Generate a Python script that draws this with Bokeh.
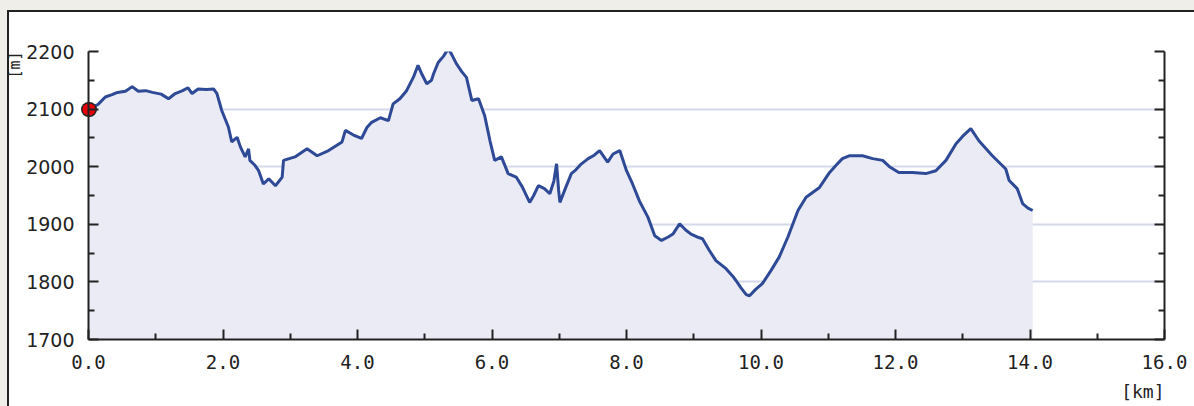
import math
from bokeh.plotting import figure
from bokeh.models import (LinearAxis, FixedTicker, PrintfTickFormatter, Range1d,
                          Title, GlobalInlineStyleSheet)
from bokeh.embed import file_html
from bokeh.resources import INLINE

# ---- data (distance km, elevation m) ----
distance_km = [
    0.00, 0.08, 0.15, 0.25, 0.35, 0.43, 0.55, 0.65, 0.74, 0.85, 0.95, 1.08, 1.19, 1.29, 1.40,
    1.48, 1.54, 1.63, 1.75, 1.86, 1.91, 1.98, 2.08, 2.13, 2.21, 2.26, 2.33, 2.38, 2.40, 2.47,
    2.53, 2.60, 2.68, 2.78, 2.88, 2.90, 3.07, 3.25, 3.40, 3.57, 3.77, 3.82, 3.94, 4.06, 4.14,
    4.21, 4.34, 4.46, 4.53, 4.63, 4.73, 4.83, 4.90, 4.96, 5.03, 5.10, 5.13, 5.20, 5.28, 5.35,
    5.40, 5.47, 5.55, 5.62, 5.70, 5.80, 5.89, 5.97, 6.04, 6.14, 6.24, 6.36, 6.45, 6.56, 6.62,
    6.69, 6.78, 6.86, 6.92, 6.96, 6.99, 7.01, 7.10, 7.18, 7.25, 7.33, 7.43, 7.52, 7.60, 7.66,
    7.72, 7.80, 7.90, 8.00, 8.09, 8.19, 8.32, 8.42, 8.52, 8.62, 8.69, 8.79, 8.88, 8.96, 9.05,
    9.13, 9.23, 9.33, 9.48, 9.58, 9.63, 9.70, 9.78, 9.83, 9.92, 10.02, 10.15, 10.27, 10.40,
    10.55, 10.67, 10.87, 11.02, 11.12, 11.21, 11.31, 11.51, 11.66, 11.81, 11.91, 12.05, 12.25,
    12.45, 12.60, 12.75, 12.90, 13.00, 13.12, 13.24, 13.44, 13.64, 13.69, 13.81, 13.89, 13.97,
    14.04,
]
elevation_m = [
    2100, 2104, 2109, 2121, 2125, 2129, 2131, 2139, 2131, 2132, 2129, 2126, 2118, 2127, 2132,
    2137, 2127, 2135, 2134, 2135, 2127, 2098, 2069, 2043, 2051, 2034, 2017, 2031, 2011, 2003,
    1993, 1970, 1979, 1967, 1982, 2011, 2017, 2031, 2019, 2028, 2043, 2063, 2055, 2049, 2068,
    2077, 2085, 2080, 2109, 2118, 2132, 2155, 2176, 2160, 2144, 2150, 2161, 2181, 2192, 2205,
    2195, 2179, 2165, 2155, 2115, 2118, 2089, 2045, 2011, 2017, 1988, 1982, 1965, 1938, 1950,
    1967, 1962, 1953, 1975, 2005, 1960, 1938, 1965, 1988, 1995, 2005, 2014, 2020, 2028, 2018,
    2008, 2022, 2028, 1993, 1970, 1941, 1912, 1880, 1872, 1878, 1883, 1901, 1890, 1883, 1878,
    1875, 1855, 1837, 1823, 1810, 1802, 1790, 1778, 1776, 1787, 1797, 1820, 1843, 1878,
    1924, 1947, 1964, 1990, 2003, 2014, 2019, 2019, 2014, 2011, 2000, 1990, 1990,
    1988, 1993, 2011, 2040, 2053, 2066, 2045, 2019, 1996, 1976, 1962, 1936, 1928,
    1924,
]
x_ticks = [0, 2, 4, 6, 8, 10, 12, 14, 16]
x_minor = [1, 3, 5, 7, 9, 11, 13, 15]
y_ticks = [1700, 1800, 1900, 2000, 2100, 2200]
y_minor = [1750, 1850, 1950, 2050, 2150]
x_unit = "[km]"
y_unit = "[m]"

LINE = "#2e4a96"
FILL = "#ebebf5"
GRID = "#d6d9ec"
AXIS = "#222222"

PAGE_CSS = """
html {
  background-color: #ffffff;
  background-image: linear-gradient(#efeee9, #efeee9), linear-gradient(#efeee9, #efeee9),
                    linear-gradient(#222222, #222222), linear-gradient(#222222, #222222);
  background-size: 100% 10px, 7px 100%, 100% 2px, 2px 100%;
  background-position: 0 0, 0 0, 0 10px, 7px 0;
  background-repeat: no-repeat;
  overflow: hidden;
}
body { background: transparent; overflow: hidden; }
"""

p = figure(width=1190, height=420, output_backend="svg", toolbar_location=None,
           x_range=Range1d(0, 16), y_range=Range1d(1700, 2200),
           x_axis_location=None, y_axis_location=None,
           min_border_left=88, min_border_right=26, min_border_top=51, min_border_bottom=81,
           border_fill_color=None, background_fill_color="white")
p.outline_line_color = None
p.stylesheets = [GlobalInlineStyleSheet(css=PAGE_CSS)]

def style_axis(ax, labels=True):
    ax.axis_line_color = AXIS
    ax.axis_line_width = 2
    ax.major_tick_line_color = AXIS
    ax.minor_tick_line_color = AXIS
    ax.major_tick_line_width = 2
    ax.minor_tick_line_width = 2
    ax.major_tick_in = 10
    ax.major_tick_out = 0
    ax.minor_tick_in = 6
    ax.minor_tick_out = 0
    if not labels:
        ax.major_label_text_font_size = "0px"
        ax.major_label_standoff = 0

# start marker: drawn as round-capped ticks of zero-size axes (not clipped by frame)
def marker_axis(width, color):
    ax = LinearAxis(ticker=FixedTicker(ticks=[elevation_m[0]], minor_ticks=[]))
    ax.axis_line_color = None
    ax.major_tick_line_color = color
    ax.major_tick_line_width = width
    ax.major_tick_line_cap = "round"
    ax.major_tick_in = 1
    ax.major_tick_out = 0
    ax.minor_tick_in = 0
    ax.minor_tick_out = 0
    ax.major_label_text_font_size = "0px"
    ax.major_label_standoff = 0
    return ax

yaxis = LinearAxis(ticker=FixedTicker(ticks=y_ticks, minor_ticks=y_minor))
style_axis(yaxis)
yaxis.major_label_text_font = "DejaVu Sans"
yaxis.major_label_text_font_size = "19px"
yaxis.major_label_text_color = "#222"
yaxis.major_label_standoff = 14

xaxis = LinearAxis(ticker=FixedTicker(ticks=x_ticks, minor_ticks=x_minor),
                   formatter=PrintfTickFormatter(format="%.1f"))
style_axis(xaxis)
xaxis.major_label_text_font = "DejaVu Sans Mono"
xaxis.major_label_text_font_size = "19px"
xaxis.major_label_text_color = "#222"
xaxis.major_label_standoff = 15
p.add_layout(xaxis, "below")

raxis = LinearAxis(ticker=FixedTicker(ticks=y_ticks, minor_ticks=y_minor))
style_axis(raxis, labels=False)
p.add_layout(raxis, "right")

p.xgrid.visible = False
p.ygrid.ticker = FixedTicker(ticks=y_ticks)
p.ygrid.grid_line_color = GRID
p.ygrid.grid_line_width = 2

p.varea(x=distance_km, y1=[1700] * len(distance_km), y2=elevation_m, fill_color=FILL)
p.line(distance_km, elevation_m, line_color=LINE, line_width=3)

p.add_layout(marker_axis(15, "#222"), "left")
p.add_layout(marker_axis(12, "#e6000a"), "left")
p.add_layout(yaxis, "left")

p.add_layout(Title(text=x_unit, align="right", text_font="DejaVu Sans Mono",
                   text_font_size="18px", text_font_style="normal", text_color="#222",
                   standoff=15), "below")
p.add_layout(Title(text=y_unit, align="right", text_font="DejaVu Sans Mono",
                   text_font_size="15px", text_font_style="normal", text_color="#222",
                   standoff=0), "left")

open("out.html", "w").write(file_html(p, INLINE))
